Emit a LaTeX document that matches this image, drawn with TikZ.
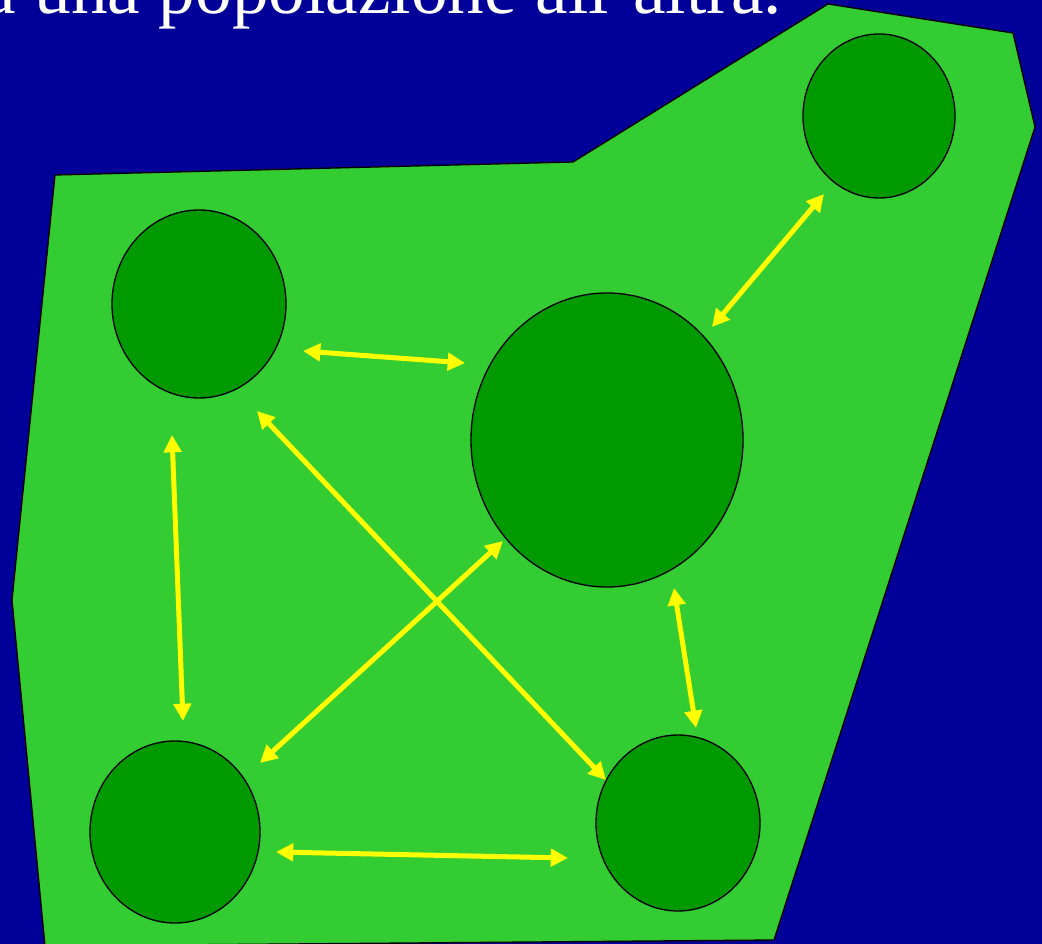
\documentclass[tikz,border=0pt]{standalone}
\usepackage{fontspec}
\setmainfont{Liberation Serif}
\usetikzlibrary{arrows.meta,shapes.geometric}
\definecolor{bgblue}{RGB}{0,0,153}
\definecolor{landgreen}{RGB}{51,204,51}
\definecolor{popgreen}{RGB}{0,153,0}
\definecolor{migyellow}{RGB}{255,255,0}

\begin{document}
\begin{tikzpicture}[x=0.75pt, y=-0.75pt, pop/.style={ellipse,draw=black,line width=1pt,fill=popgreen,inner sep=0pt}, mig/.style={{Triangle[length=13pt,width=13pt]}-{Triangle[length=13pt,width=13pt]},draw=migyellow,line width=3.75pt}]
\clip (0,0) rectangle (1042,944);
\fill[bgblue] (0,0) rectangle (1042,944);
\node[anchor=base east,inner sep=0pt,text=white,font=\fontsize{55}{60}\selectfont] (title) at (782,14) {da una popolazione all'altra.};
% territory
\draw[fill=landgreen,line width=1pt] (55,175) -- (573,162) -- (828,4) -- (1013,33) -- (1035,127) -- (774,940) -- (45,946) -- (12,600) -- cycle;
% populations
\node[pop,minimum width=130.5pt,minimum height=141pt] (lt) at (199,304) {};
\node[pop,minimum width=204pt,minimum height=220.5pt] (mid) at (607,440) {};
\node[pop,minimum width=114pt,minimum height=123pt] (rt) at (879,116) {};
\node[pop,minimum width=127.5pt,minimum height=136.5pt] (lb) at (175,832) {};
\node[pop,minimum width=123pt,minimum height=132pt] (rb) at (678,823) {};
% arrow ends
\coordinate (lt-mid) at (303,351);
\coordinate (mid-lt) at (465,363);
\coordinate (mid-rt) at (712,327);
\coordinate (rt-mid) at (824,194);
\coordinate (lt-lb) at (172,435);
\coordinate (lb-lt) at (183,721);
\coordinate (lt-rb) at (257,411);
\coordinate (rb-lt) at (606,780);
\coordinate (lb-mid) at (260,763);
\coordinate (mid-lb) at (503,541);
\coordinate (mid-rb) at (674,588);
\coordinate (rb-mid) at (696,728);
\coordinate (lb-rb) at (276,852);
\coordinate (rb-lb) at (568,858);
% migrations
\draw[mig] (lt-mid) -- (mid-lt);
\draw[mig] (mid-rt) -- (rt-mid);
\draw[mig] (lt-lb) -- (lb-lt);
\draw[mig] (lt-rb) -- (rb-lt);
\draw[mig] (lb-mid) -- (mid-lb);
\draw[mig] (mid-rb) -- (rb-mid);
\draw[mig] (lb-rb) -- (rb-lb);
\end{tikzpicture}
\end{document}
